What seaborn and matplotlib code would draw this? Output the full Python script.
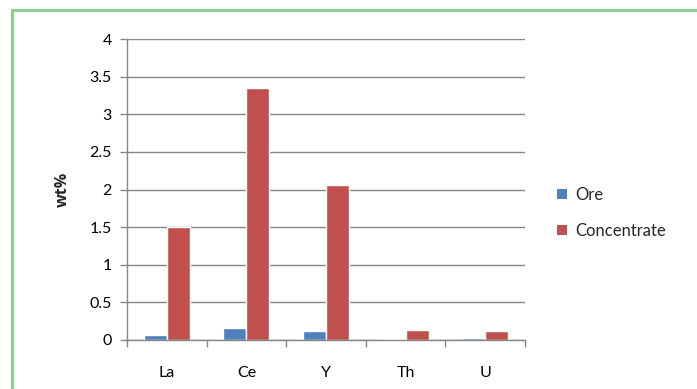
import matplotlib
matplotlib.use("Agg")
import matplotlib.pyplot as plt
import seaborn as sns
import pandas as pd
from matplotlib.lines import Line2D
from matplotlib.patches import Patch

elements = ["La", "Ce", "Y", "Th", "U"]
ore = [0.06, 0.16, 0.12, 0.01, 0.03]
concentrate = [1.50, 3.35, 2.06, 0.13, 0.12]
series_names = ["Ore", "Concentrate"]
colors = ["#4F81BD", "#C0504D"]
y_ticks = [0, 0.5, 1, 1.5, 2, 2.5, 3, 3.5, 4]
y_tick_labels = ["0", "0.5", "1", "1.5", "2", "2.5", "3", "3.5", "4"]

df = pd.DataFrame({
    "element": elements * 2,
    "series": [series_names[0]] * len(elements) + [series_names[1]] * len(elements),
    "value": ore + concentrate,
})

sns.set_theme(style="white")
plt.rcParams["font.family"] = ["Lato", "DejaVu Sans"]

fig = plt.figure(figsize=(6.97, 3.89), dpi=100)
ax = fig.add_axes([0.1822, 0.126, 0.5710, 0.7737])

sns.barplot(data=df, x="element", y="value", hue="series", order=elements,
            hue_order=series_names, palette=colors, width=0.58, ax=ax,
            saturation=1, legend=False, errorbar=None)

grid_c = "#868686"
ax.set_ylim(0, 4)
ax.set_xlim(-0.5, len(elements) - 0.5)
ax.set_yticks(y_ticks)
ax.set_yticklabels(y_tick_labels)
ax.yaxis.grid(True, color=grid_c, linewidth=1)
ax.set_axisbelow(True)
for s in ["top", "right"]:
    ax.spines[s].set_visible(False)
for s in ["left", "bottom"]:
    ax.spines[s].set_color(grid_c)
    ax.spines[s].set_linewidth(1)

ax.tick_params(axis="y", which="major", left=True, length=5, width=1,
               color=grid_c, labelsize=11.5, pad=6, labelcolor="black")
ax.set_xticks(range(len(elements)))
ax.set_xticklabels(elements)
ax.tick_params(axis="x", which="major", bottom=False, labelsize=11.5, pad=13,
               labelcolor="black")
ax.set_xticks([i - 0.5 for i in range(len(elements) + 1)], minor=True)
ax.tick_params(axis="x", which="minor", bottom=True, length=5, width=1,
               color=grid_c)

ax.set_xlabel("")
ax.set_ylabel("wt%", fontsize=11.5, fontweight="bold", labelpad=13,
              family=["Open Sans", "DejaVu Sans"])

handles = [Patch(facecolor=c, edgecolor="none") for c in colors]
fig.legend(handles, series_names, loc="upper left",
           bbox_to_anchor=(0.790, 0.537), frameon=False, fontsize=12,
           handlelength=0.6, handleheight=0.6, handletextpad=0.45,
           labelspacing=1.2, borderaxespad=0)

# Green frame around the chart (left and top edges)
frame_c = "#8ACF8A"
fig.add_artist(Line2D([0.0172, 0.0172], [0.0, 0.9743], transform=fig.transFigure,
                      color=frame_c, linewidth=2.2))
fig.add_artist(Line2D([0.0172, 1.0], [0.9743, 0.9743], transform=fig.transFigure,
                      color=frame_c, linewidth=2.2))

fig.savefig("out.png", dpi=100)
